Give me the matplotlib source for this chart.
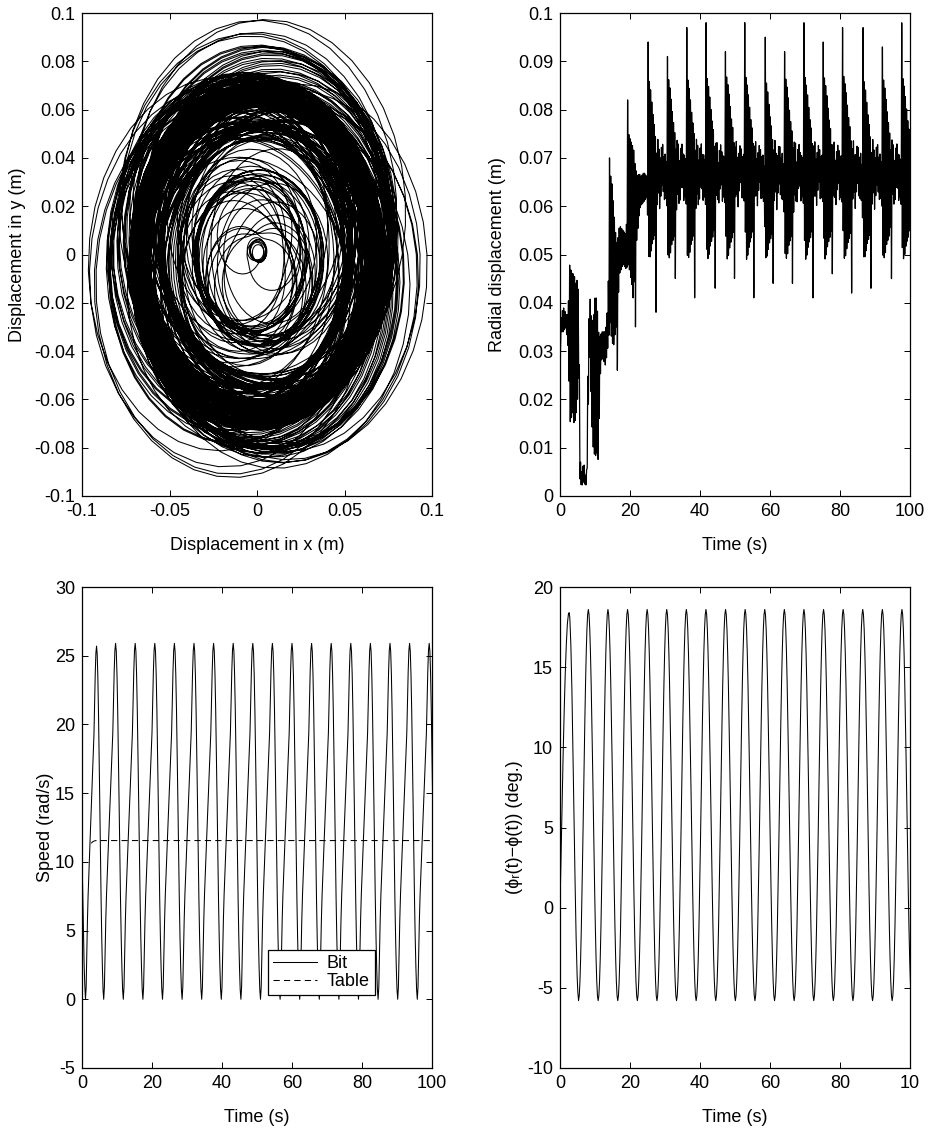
import numpy as np
import matplotlib.pyplot as plt
from matplotlib.lines import Line2D

plt.rcParams["font.family"] = ["Liberation Sans", "DejaVu Sans"]
plt.rcParams["font.size"] = 13
plt.rcParams["axes.unicode_minus"] = False

# ---- radial displacement: envelope of the fast whirl oscillation (s, m) ----
env_t = [0.0, 0.2, 0.5, 1.0, 1.5, 2.0, 2.4, 2.7, 3.0, 3.5,
         4.0, 4.5, 5.0, 5.4, 5.7, 6.2, 6.8, 7.3, 7.7, 8.0, 8.5,
         9.0, 9.5, 10.0, 10.5, 11.0, 11.4, 12.0, 13.0, 13.7, 14.3,
         14.8, 15.3, 15.8, 16.3, 17.0, 18.0, 18.9, 19.6, 20.0, 20.5,
         21.0, 21.5, 22.2, 22.6, 23.0, 24.0, 24.9]
env_hi = [0.025, 0.036, 0.038, 0.039, 0.038, 0.037, 0.040, 0.048, 0.047, 0.046,
          0.046, 0.044, 0.045, 0.040, 0.008, 0.005, 0.007, 0.004, 0.006, 0.030, 0.042,
          0.037, 0.036, 0.041, 0.041, 0.034, 0.033, 0.034, 0.034, 0.040, 0.067,
          0.065, 0.060, 0.055, 0.052, 0.056, 0.055, 0.054, 0.075, 0.074, 0.073,
          0.072, 0.068, 0.066, 0.067, 0.066, 0.067, 0.066]
env_lo = [0.022, 0.033, 0.034, 0.034, 0.035, 0.033, 0.030, 0.020, 0.014, 0.018,
          0.015, 0.016, 0.020, 0.025, 0.003, 0.002, 0.003, 0.002, 0.003, 0.016, 0.030,
          0.016, 0.010, 0.008, 0.009, 0.007, 0.024, 0.029, 0.027, 0.031, 0.036,
          0.032, 0.031, 0.034, 0.036, 0.046, 0.048, 0.047, 0.048, 0.046, 0.044,
          0.040, 0.050, 0.055, 0.058, 0.060, 0.061, 0.062]

# envelope during one steady cycle, seconds after each kick
cycle_tau = [0.15, 0.4, 0.8, 1.2, 1.6, 2.0, 2.2, 2.5, 2.8, 3.1,
             3.4, 3.8, 4.2, 4.6, 5.0, 5.45]
cycle_hi = [0.087, 0.086, 0.084, 0.081, 0.078, 0.076, 0.074, 0.071, 0.074, 0.073,
            0.069, 0.072, 0.073, 0.070, 0.071, 0.068]
cycle_lo = [0.050, 0.049, 0.050, 0.052, 0.053, 0.054, 0.055, 0.058, 0.062, 0.063,
            0.059, 0.063, 0.065, 0.061, 0.062, 0.060]

# single outward kicks and inward dips of the whirl radius
kick_t = [14.1, 19.3, 25.1, 30.7, 36.2, 41.8, 47.4, 52.9, 58.5, 64.2,
          69.8, 75.3, 80.9, 86.5, 92.1, 97.7]
kick_r = [0.070, 0.082, 0.094, 0.091, 0.097, 0.098, 0.092, 0.098, 0.095, 0.092,
          0.098, 0.094, 0.097, 0.097, 0.093, 0.098]
dip_t = [16.4, 21.6, 27.5, 33.1, 38.6, 44.3, 49.8, 55.4, 61.0, 66.5,
         72.2, 77.7, 83.3, 88.9, 94.6]
dip_r = [0.026, 0.035, 0.038, 0.045, 0.041, 0.043, 0.045, 0.041, 0.044, 0.044,
         0.041, 0.046, 0.042, 0.043, 0.045]

whirl_period = 0.36      # s per revolution of the bit centre
radial_period = 0.345    # s per radial oscillation
steps_per_rev = 45

# ---- bit / table speed (rad/s) ----
speed_trough_t = [1.0, 6.2, 11.8, 17.4, 23.0, 28.6, 34.2, 39.8, 45.4, 51.0,
                  56.6, 62.2, 67.8, 73.4, 79.0, 84.6, 90.2, 95.8, 101.4]
speed_peak = [25.7] + [25.9] * 17
speed_start_t = [0.0, 0.2, 0.4, 0.6, 0.8]
speed_start = [10.6, 8.0, 5.0, 2.6, 1.0]
# one stick-slip cycle, trough to trough, every 0.2 s
speed_cycle = [0.0, 0.9, 3.4, 5.8, 7.6, 9.0, 10.3, 11.6, 12.9, 14.2,
               15.6, 17.0, 18.3, 19.4, 21.6, 23.9, 25.4, 25.9, 25.3, 23.6,
               21.0, 17.8, 14.3, 10.7, 7.3, 4.5, 2.3, 0.7, 0.0]
table_t = [2.6, 3.0, 3.5, 4.0, 100.0]
table_speed = [11.35, 11.45, 11.52, 11.55, 11.55]

# ---- angle difference (deg.) ----
phase_start_t = [0.0, 0.3, 0.6, 0.9, 1.2, 1.5, 1.8, 2.1, 2.4, 2.6,
                 2.8, 3.1, 3.4, 3.7, 4.0, 4.3, 4.6, 4.9, 5.1]
phase_start = [0.0, 3.3, 6.6, 9.6, 12.3, 14.6, 16.4, 17.7, 18.3, 18.4,
               18.1, 16.4, 13.6, 9.8, 5.7, 1.7, -1.8, -4.3, -5.3]
phase_trough_t = [5.3, 10.9, 16.5, 22.1, 27.7, 33.3, 38.9, 44.5, 50.1, 55.7,
                  61.3, 66.9, 72.5, 78.1, 83.7, 89.3, 94.9, 100.5]
phase_cycle = [-5.8, -5.49, -4.59, -3.14, -1.21, 1.11, 3.69, 6.4, 9.11, 11.69,
               14.01, 15.94, 17.39, 18.29, 18.6, 18.29, 17.39, 15.94, 14.01, 11.69,
               9.11, 6.4, 3.69, 1.11, -1.21, -3.14, -4.59, -5.49, -5.8]

orbit_ticks = [-0.1, -0.05, 0, 0.05, 0.1]
orbit_tick_labels = ["-0.1", "-0.05", "0", "0.05", "0.1"]
orbit_yticks = [-0.1, -0.08, -0.06, -0.04, -0.02, 0, 0.02, 0.04, 0.06, 0.08, 0.1]
orbit_ytick_labels = ["-0.1", "-0.08", "-0.06", "-0.04", "-0.02", "0",
                      "0.02", "0.04", "0.06", "0.08", "0.1"]
time_ticks = [0, 20, 40, 60, 80, 100]
time_tick_labels = ["0", "20", "40", "60", "80", "100"]
phase_time_labels = ["0", "20", "40", "60", "80", "10"]
radial_ticks = [0, 0.01, 0.02, 0.03, 0.04, 0.05, 0.06, 0.07, 0.08, 0.09, 0.1]
radial_tick_labels = ["0", "0.01", "0.02", "0.03", "0.04", "0.05", "0.06",
                      "0.07", "0.08", "0.09", "0.1"]
speed_ticks = [-5, 0, 5, 10, 15, 20, 25, 30]
phase_ticks = [-10, -5, 0, 5, 10, 15, 20]


def build_radius():
    tt, hh, ll = list(env_t), list(env_hi), list(env_lo)
    for k in kick_t:
        if k > 24.9:
            tt += [k + s for s in cycle_tau]
            hh += cycle_hi
            ll += cycle_lo
    half = radial_period / 2
    ext_t = np.arange(0, 100 + 3 * half, half)
    idx = np.arange(len(ext_t))
    ext_v = np.where(idx % 2 == 0, np.interp(ext_t, tt, hh), np.interp(ext_t, tt, ll))
    for k, v in zip(kick_t, kick_r):
        ext_v[2 * int(round(k / (2 * half)))] = v
    for k, v in zip(dip_t, dip_r):
        ext_v[2 * int(k // (2 * half)) + 1] = v

    t = np.arange(0, 100 + 1e-9, whirl_period / steps_per_rev)
    seg = np.minimum((t / half).astype(int), len(ext_t) - 2)
    frac = t / half - seg
    w = 0.5 - 0.5 * np.cos(np.pi * frac)
    r = ext_v[seg] + (ext_v[seg + 1] - ext_v[seg]) * w
    return t, r


def tile_cycles(start_t, start_v, troughs, cycle, scales=None):
    tt, vv = list(start_t), list(start_v)
    n = len(cycle)
    for i in range(len(troughs) - 1):
        a, b = troughs[i], troughs[i + 1]
        s = 1.0 if scales is None else scales[i]
        tt += [a + (b - a) * j / (n - 1) for j in range(n - 1)]
        vv += [c * s for c in cycle[:-1]]
    tt.append(troughs[-1])
    vv.append(cycle[-1])
    return np.array(tt), np.array(vv)


def style(ax):
    ax.tick_params(direction="in", top=True, right=True, length=4, width=0.7, pad=5)
    for sp in ax.spines.values():
        sp.set_linewidth(0.9)


fig = plt.figure(figsize=(9.29, 11.28), dpi=100)
W, H = 929, 1128
ax1 = fig.add_axes([82 / W, 1 - 496 / H, 350 / W, 483 / H])
ax2 = fig.add_axes([560 / W, 1 - 496 / H, 350 / W, 483 / H])
ax3 = fig.add_axes([82 / W, 1 - 1068 / H, 350 / W, 481 / H])
ax4 = fig.add_axes([560 / W, 1 - 1068 / H, 350 / W, 481 / H])

t, r = build_radius()
theta = 2 * np.pi * t / whirl_period

# orbit of the bit centre
ax1.plot(r * np.cos(theta), r * np.sin(theta), color="k", lw=0.75)
ax1.set_xlim(-0.1, 0.1)
ax1.set_ylim(-0.1, 0.1)
ax1.set_xticks(orbit_ticks, orbit_tick_labels)
ax1.set_yticks(orbit_yticks, orbit_ytick_labels)
ax1.set_xlabel("Displacement in x (m)", labelpad=12)
ax1.set_ylabel("Displacement in y (m)")

# radial displacement over time
ax2.plot(t, r, color="k", lw=0.9)
ax2.set_xlim(0, 100)
ax2.set_ylim(0, 0.1)
ax2.set_xticks(time_ticks, time_tick_labels)
ax2.set_yticks(radial_ticks, radial_tick_labels)
ax2.set_xlabel("Time (s)", labelpad=12)
ax2.set_ylabel("Radial displacement (m)")

# bit and table speeds
bt, bv = tile_cycles(speed_start_t, speed_start, speed_trough_t, speed_cycle,
                     [p / 25.9 for p in speed_peak])
ax3.plot(bt, bv, color="k", lw=0.75)
ax3.plot(table_t, table_speed, color="k", lw=0.75, dashes=(6, 4))
ax3.set_xlim(0, 100)
ax3.set_ylim(-5, 30)
ax3.set_xticks(time_ticks, time_tick_labels)
ax3.set_yticks(speed_ticks)
ax3.set_xlabel("Time (s)", labelpad=12)
ax3.set_ylabel("Speed (rad/s)")
handles = [Line2D([], [], color="k", lw=0.75),
           Line2D([], [], color="k", lw=0.75, dashes=(6, 4))]
leg = ax3.legend(handles, ["Bit", "Table"], loc="lower left",
                 bbox_to_anchor=(0.531, 0.151), borderaxespad=0, fancybox=False,
                 framealpha=1, edgecolor="k", handlelength=2.4, handletextpad=0.55,
                 labelspacing=0.05, borderpad=0.3)
leg.get_frame().set_linewidth(0.9)

# angle difference between table and bit
pt, pv = tile_cycles(phase_start_t, phase_start, phase_trough_t, phase_cycle)
ax4.plot(pt, pv, color="k", lw=0.75)
ax4.set_xlim(0, 100)
ax4.set_ylim(-10, 20)
ax4.set_xticks(time_ticks, phase_time_labels)
ax4.set_yticks(phase_ticks)
ax4.set_xlabel("Time (s)", labelpad=12)
ax4.set_ylabel("(ϕᵣ(t)−ϕ(t)) (deg.)")

for ax in (ax1, ax2, ax3, ax4):
    style(ax)

ax1.yaxis.set_label_coords(-0.16, 0.5)
ax2.yaxis.set_label_coords(-0.155, 0.5)
ax3.yaxis.set_label_coords(-0.08, 0.5)
ax4.yaxis.set_label_coords(-0.105, 0.5)

fig.savefig("out.png", dpi=100)
